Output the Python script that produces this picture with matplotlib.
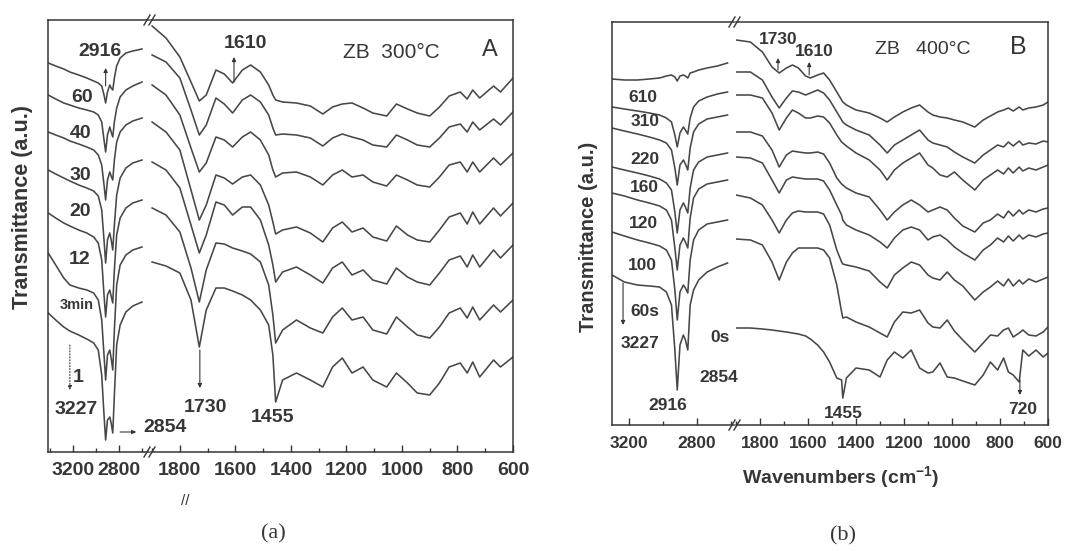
import matplotlib
matplotlib.use("Agg")
import matplotlib.pyplot as plt
from matplotlib.lines import Line2D
from matplotlib.ticker import MultipleLocator

plt.rcParams["font.family"] = ["Liberation Sans", "DejaVu Sans"]
plt.rcParams["mathtext.default"] = "regular"

W, H = 1065, 551
INK = "#363636"
LINE = "#474747"

# ---- panel A : ZB 300 C -------------------------------------------------
A_LABELS = ["60", "40", "30", "20", "12", "3min", "1"]

A_HI_X = [3415, 3350, 3280, 3227, 3150, 3080, 3020, 2980, 2950, 2930, 2916,
          2900, 2880, 2868, 2854, 2840, 2820, 2790, 2740, 2680, 2600]
A_HI_Y = [
    [437, 434, 431, 428, 425, 422, 419, 417, 414, 405, 397, 408, 415, 412, 410, 422, 434, 442, 447, 449, 451],
    [405, 401, 397, 395, 392, 390, 388, 385, 378, 360, 348, 365, 373, 368, 363, 378, 392, 403, 410, 414, 418],
    [368, 365, 362, 359, 356, 353, 350, 345, 335, 315, 300, 320, 328, 324, 320, 340, 358, 368, 375, 379, 382],
    [330, 326, 322, 319, 315, 312, 309, 304, 290, 260, 237, 260, 267, 260, 250, 275, 305, 322, 332, 337, 340],
    [287, 282, 277, 274, 270, 267, 263, 257, 240, 205, 183, 205, 210, 204, 197, 230, 265, 282, 292, 297, 300],
    [247, 235, 222, 215, 212, 210, 207, 200, 180, 145, 120, 145, 150, 142, 130, 170, 215, 235, 245, 250, 253],
    [187, 180, 173, 169, 165, 161, 157, 150, 125, 85, 60, 80, 83, 77, 67, 105, 155, 175, 188, 194, 198],
]

A_LO_X = [1900, 1850, 1800, 1760, 1730, 1705, 1670, 1640, 1610, 1575, 1545, 1510,
          1480, 1465, 1455, 1430, 1380, 1330, 1285, 1250, 1215, 1180, 1140, 1105,
          1055, 1020, 980, 945, 900, 865, 830, 790, 765, 745, 720, 670, 645, 600]
A_LO_Y = [
    [474, 462, 443, 418, 399, 405, 430, 426, 417, 430, 435, 428, 415, 405, 400, 398, 397, 394, 386,
     393, 396, 397, 392, 387, 384, 396, 391, 387, 384, 393, 404, 408, 401, 410, 402, 414, 408, 422],
    [445, 438, 422, 390, 365, 375, 402, 396, 387, 400, 405, 398, 385, 372, 365, 366, 365, 362, 354,
     362, 366, 363, 360, 355, 353, 365, 360, 355, 353, 362, 373, 376, 368, 378, 370, 381, 375, 388],
    [415, 405, 385, 352, 328, 337, 363, 360, 353, 363, 368, 360, 345, 330, 323, 327, 328, 323, 315,
     325, 330, 323, 325, 318, 314, 325, 320, 315, 313, 323, 335, 338, 328, 338, 328, 342, 335, 347],
    [378, 368, 350, 310, 280, 295, 325, 322, 316, 323, 325, 315, 295, 278, 266, 270, 273, 267, 258,
     272, 278, 268, 272, 263, 259, 274, 265, 260, 258, 270, 283, 287, 276, 288, 276, 292, 284, 297],
    [338, 330, 312, 275, 247, 265, 298, 295, 285, 293, 293, 280, 255, 235, 218, 228, 233, 225, 217,
     232, 238, 225, 230, 220, 216, 232, 223, 218, 215, 227, 240, 244, 233, 245, 233, 250, 242, 255],
    [292, 285, 268, 232, 198, 230, 257, 256, 252, 249, 246, 238, 215, 185, 157, 170, 180, 172, 167,
     183, 192, 180, 183, 170, 166, 183, 173, 165, 162, 173, 187, 192, 182, 193, 180, 195, 188, 200],
    [238, 234, 227, 200, 153, 190, 212, 212, 209, 205, 200, 190, 175, 145, 98, 120, 127, 120, 113,
     133, 142, 127, 133, 120, 113, 127, 117, 107, 105, 117, 133, 137, 127, 138, 123, 140, 133, 143],
]

# ---- panel B : ZB 400 C -------------------------------------------------
B_LABELS = ["610", "310", "220", "160", "120", "100", "60s", "0s"]

B_HI_X = [3300, 3227, 3150, 3080, 3020, 2980, 2950, 2930, 2916, 2900, 2880,
          2868, 2854, 2840, 2820, 2790, 2740, 2680, 2620]
B_HI_Y = [
    [421, 420, 420, 421, 422, 424, 425, 423, 419, 424, 425, 424, 422, 427, 428, 430, 432, 434, 437],
    [393, 391, 389, 387, 385, 382, 378, 365, 353, 367, 373, 370, 366, 382, 393, 399, 403, 406, 408],
    [372, 369, 366, 363, 360, 357, 350, 332, 315, 335, 340, 336, 330, 352, 368, 376, 381, 383, 385],
    [333, 330, 327, 324, 321, 317, 310, 288, 267, 290, 297, 293, 287, 312, 330, 338, 343, 345, 347],
    [307, 304, 300, 297, 294, 290, 280, 252, 230, 255, 262, 258, 252, 282, 302, 311, 316, 318, 320],
    [268, 264, 260, 257, 254, 250, 240, 210, 180, 208, 215, 212, 207, 240, 260, 270, 276, 278, 280],
    [225, 218, 215, 214, 213, 208, 195, 150, 110, 155, 165, 160, 150, 195, 210, 220, 228, 233, 237],
    None,  # 0 s spectrum was only recorded below 1900 cm-1
]

B_LO_X = [1900, 1840, 1790, 1750, 1720, 1690, 1665, 1640, 1610, 1590, 1560, 1535, 1510,
          1480, 1460, 1455, 1440, 1400, 1345, 1300, 1270, 1240, 1205, 1170, 1135, 1100,
          1080, 1050, 1020, 990, 955, 905, 870, 840, 810, 785, 765, 745, 720, 705, 680,
          650, 620, 600]
B_LO_Y = [
    [460, 458, 448, 433, 427, 432, 435, 432, 424, 422, 425, 427, 420, 408, 400, 398, 395, 390, 387, 382, 378, 383,
     388, 392, 395, 388, 385, 383, 382, 380, 378, 373, 380, 384, 388, 390, 392, 389, 393, 390, 392, 393, 395, 398],
    [428, 428, 420, 403, 392, 402, 409, 408, 405, 407, 410, 407, 400, 388, 380, 378, 375, 370, 365, 355, 347, 355,
     360, 365, 370, 360, 357, 355, 353, 348, 343, 337, 345, 350, 355, 353, 358, 354, 359, 355, 357, 356, 359, 358],
    [405, 405, 402, 387, 370, 382, 390, 387, 382, 382, 384, 383, 377, 365, 358, 357, 354, 347, 340, 330, 320, 330,
     337, 342, 347, 335, 332, 325, 323, 328, 320, 310, 320, 325, 330, 326, 332, 327, 333, 329, 332, 330, 333, 335],
    [368, 368, 364, 350, 333, 345, 349, 348, 347, 347, 348, 346, 337, 322, 316, 315, 312, 307, 303, 290, 280, 288,
     295, 300, 295, 288, 290, 293, 290, 282, 274, 268, 277, 280, 286, 282, 289, 284, 290, 286, 290, 288, 291, 292],
    [343, 342, 337, 320, 307, 320, 323, 322, 321, 321, 321, 319, 310, 295, 285, 280, 275, 270, 265, 258, 252, 262,
     270, 273, 270, 260, 263, 265, 260, 253, 247, 240, 250, 255, 262, 258, 264, 259, 265, 261, 265, 263, 266, 267],
    [305, 302, 295, 280, 267, 280, 287, 289, 288, 288, 288, 286, 275, 250, 238, 236, 235, 233, 229, 218, 212, 225,
     232, 238, 235, 225, 222, 220, 228, 220, 214, 200, 208, 213, 219, 214, 221, 214, 220, 216, 221, 218, 221, 223],
    [261, 260, 255, 238, 220, 238, 247, 252, 252, 252, 252, 250, 242, 215, 188, 182, 183, 178, 173, 167, 163, 178,
     188, 187, 190, 177, 173, 172, 180, 169, 160, 148, 157, 165, 164, 170, 172, 163, 167, 170, 165, 164, 168, 173],
    [172, 172, 171, 170, 169, 168, 167, 166, 164, 161, 155, 148, 138, 122, 120, 102, 122, 132, 130, 123, 140, 148,
     142, 150, 132, 127, 128, 137, 123, 122, 119, 115, 125, 138, 130, 142, 128, 125, 118, 150, 144, 150, 143, 147],
]

fig = plt.figure(figsize=(W / 100, H / 100), dpi=100)
fig.patch.set_facecolor("white")


def style_axis(ax, lim, ylim, major, minor, size, pad, hide):
    ax.set_xlim(*lim)
    ax.set_ylim(*ylim)
    ax.set_yticks([])
    ax.xaxis.set_major_locator(MultipleLocator(major))
    ax.xaxis.set_minor_locator(MultipleLocator(minor))
    ax.tick_params(axis="x", which="both", direction="in", top=False, colors=INK,
                   width=1.0, pad=pad, labelsize=size)
    ax.tick_params(axis="x", which="major", length=5)
    ax.tick_params(axis="x", which="minor", length=3)
    for lab in ax.get_xticklabels():
        lab.set_fontweight("bold")
    for name, sp in ax.spines.items():
        sp.set_color(INK)
        sp.set_linewidth(1.1)
    ax.spines[hide].set_visible(False)
    ax.patch.set_alpha(0)


def broken_pair(left, mid, right, top, bottom, hi_lim, lo_lim, ylim, size, pad):
    h = (bottom - top) / H
    y0 = 1 - bottom / H
    hi = fig.add_axes([left / W, y0, (mid - left) / W, h])
    lo = fig.add_axes([(mid + 2) / W, y0, (right - mid - 2) / W, h])
    style_axis(hi, hi_lim, ylim, 400, 200, size, pad, "right")
    style_axis(lo, lo_lim, ylim, 200, 100, size, pad, "left")
    # "//" marks where the axis is broken
    for yy in (top, bottom):
        for dx in (-3, 2):
            x = mid + 1 + dx
            fig.add_artist(Line2D([(x - 3) / W, (x + 3) / W], [1 - (yy + 5) / H, 1 - (yy - 5) / H],
                                  transform=fig.transFigure, color=INK, lw=1.0))
    return hi, lo


def put(x, y, s, size=14, weight="bold", **kw):
    fig.text(x / W, 1 - y / H, s, fontsize=size, fontweight=weight, color=INK,
             ha=kw.pop("ha", "center"), va=kw.pop("va", "center"), **kw)


def arrow(ax, x, y_tip, y_tail, dotted=False, horiz=None):
    tail = (x, y_tail) if horiz is None else (horiz, y_tip)
    ax.annotate("", xy=(x, y_tip), xytext=tail,
                arrowprops=dict(arrowstyle="-|>", color=INK, lw=0.8, mutation_scale=6,
                                linestyle=":" if dotted else "-", shrinkA=0, shrinkB=0))


# panel A
a_hi, a_lo = broken_pair(48, 149, 513, 20, 452, (3417, 2539), (1904, 600), (48, 480), 14, 7.5)
for ys in A_HI_Y:
    a_hi.plot(A_HI_X, ys, color=LINE, lw=1.15)
for ys in A_LO_Y:
    a_lo.plot(A_LO_X, ys, color=LINE, lw=1.15)

for (x, y), lab in zip([(82, 97), (81, 133), (80, 175), (80, 212), (80, 260), (77, 305), (78, 377)], A_LABELS):
    put(x, y, lab, size=10.5 if lab == "3min" else 14)
put(100, 52, "2916")
put(76, 410, "3227")
put(165, 427, "2854")
put(205, 407, "1730")
put(273, 417, "1455")
put(245, 43, "1610")
put(391, 52, "ZB  300°C", size=15, weight="normal")
put(490, 50, "A", size=17, weight="normal")
put(23, 207, "Transmittance (a.u.)", size=15.5, rotation=90)
put(185, 501, "//", size=11, weight="normal")
put(273, 534, "(a)", size=16, weight="normal", family="Liberation Serif")

arrow(a_hi, 2916, 432, 414)
arrow(a_hi, 3227, 110, 155, dotted=True)
arrow(a_hi, 2650, 68, None, horiz=2790)
arrow(a_lo, 1728, 112, 150)
arrow(a_lo, 1605, 443, 418)

# panel B
b_hi, b_lo = broken_pair(612, 734, 1048, 22, 425, (3300, 2582), (1900, 600), (75, 478), 12.5, 8)
for ys in B_HI_Y:
    if ys is not None:
        b_hi.plot(B_HI_X, ys, color=LINE, lw=1.15)
for ys in B_LO_Y:
    b_lo.plot(B_LO_X, ys, color=LINE, lw=1.15)

for (x, y), lab in zip([(643, 97), (645, 122), (645, 160), (644, 187), (643, 223), (642, 265),
                        (645, 312), (720, 337)], B_LABELS):
    put(x, y, lab, size=12.5)
put(640, 344, "3227", size=12.5)
put(719, 378, "2854", size=12.5)
put(668, 405, "2916", size=12.5)
put(778, 40, "1730", size=12.5)
put(814, 52, "1610", size=12.5)
put(843, 413, "1455", size=12.5)
put(1023, 410, "720", size=12.5)
put(923, 49, "ZB   400°C", size=14, weight="normal")
put(1018, 47, "B", size=18, weight="normal")
put(588, 237, "Transmittance (a.u.)", size=14.5, rotation=90)
put(841, 477, "Wavenumbers (cm$^{-1}$)", size=14)
put(843, 536, "(b)", size=16, weight="normal", family="Liberation Serif")

arrow(b_hi, 3235, 175, 217)
arrow(b_lo, 1725, 442, 430)
arrow(b_lo, 1595, 438, 425)
arrow(b_lo, 717, 105, 120)

fig.savefig("out.png", dpi=100, facecolor="white")
